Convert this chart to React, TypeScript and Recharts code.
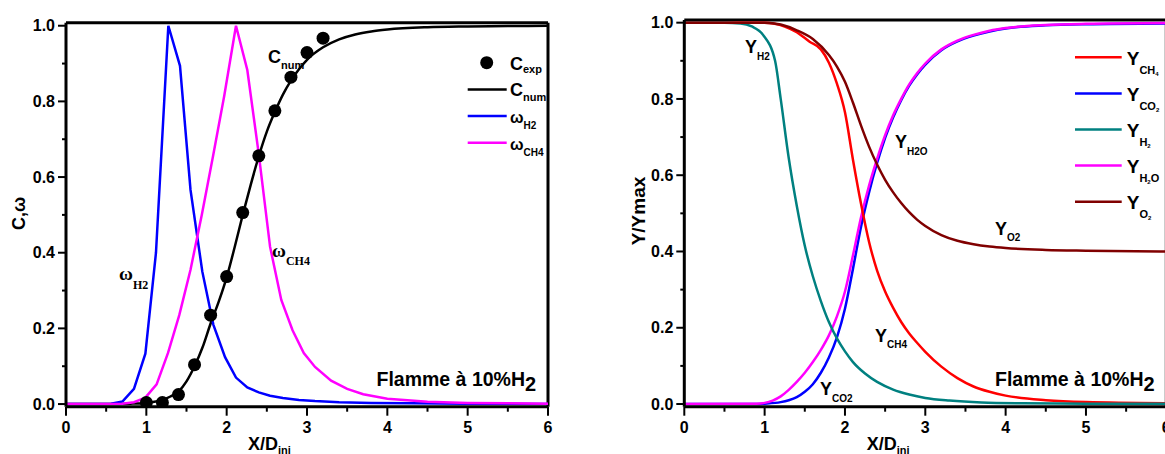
import React from 'react';
import { ComposedChart, Line, Scatter, XAxis, YAxis, ReferenceLine, Legend } from 'recharts';

const SANS = '"Liberation Sans", Arial, Helvetica, sans-serif';
const SERIF = '"Liberation Serif", "Times New Roman", serif';

// ---------- axis ticks ----------
const xTicks = [0, 0.5, 1, 1.5, 2, 2.5, 3, 3.5, 4, 4.5, 5, 5.5, 6];
const yTicks = [0, 0.1, 0.2, 0.3, 0.4, 0.5, 0.6, 0.7, 0.8, 0.9, 1.0];

// ---------- left panel: progress variable and reaction rates ----------
const cExpX = [1.0, 1.2, 1.4, 1.6, 1.8, 2.0, 2.2, 2.4, 2.6, 2.8, 3.0, 3.2];
const cExpY = [0.004, 0.004, 0.025, 0.104, 0.235, 0.337, 0.506, 0.656, 0.775, 0.864, 0.929, 0.967];

const cNumX = [0, 0.5, 0.8, 1.0, 1.1, 1.2, 1.3, 1.4, 1.5, 1.6, 1.7, 1.8, 1.9, 2.0, 2.1, 2.2, 2.3, 2.4, 2.5, 2.6, 2.7, 2.8, 2.9, 3.0, 3.2, 3.4, 3.6, 3.8, 4.0, 4.5, 5.0, 5.5, 6.0];
const cNumY = [0, 0, 0.001, 0.003, 0.006, 0.011, 0.02, 0.033, 0.06, 0.1, 0.15, 0.213, 0.27, 0.335, 0.415, 0.5, 0.58, 0.655, 0.72, 0.772, 0.818, 0.855, 0.885, 0.91, 0.943, 0.964, 0.977, 0.985, 0.99, 0.996, 0.998, 0.999, 1.0];

const wH2X = [0, 0.42, 0.56, 0.705, 0.846, 0.988, 1.12, 1.274, 1.419, 1.55, 1.697, 1.834, 1.98, 2.116, 2.257, 2.4, 2.54, 2.7, 2.9, 3.1, 3.4, 3.8, 4.3, 5, 6];
const wH2Y = [0, 0, 0.001, 0.007, 0.04, 0.133, 0.4, 1.0, 0.894, 0.566, 0.35, 0.21, 0.124, 0.07, 0.044, 0.031, 0.022, 0.016, 0.011, 0.008, 0.005, 0.003, 0.002, 0.001, 0];

const wCH4X = [0, 0.5, 0.7, 0.846, 0.988, 1.128, 1.27, 1.41, 1.55, 1.69, 1.83, 1.97, 2.116, 2.257, 2.4, 2.54, 2.68, 2.82, 2.96, 3.1, 3.3, 3.5, 3.7, 4.0, 4.5, 5, 6];
const wCH4Y = [0, 0, 0.001, 0.005, 0.017, 0.052, 0.135, 0.235, 0.355, 0.5, 0.655, 0.815, 1.0, 0.883, 0.66, 0.416, 0.275, 0.195, 0.135, 0.098, 0.062, 0.04, 0.026, 0.014, 0.006, 0.003, 0.001];

// ---------- right panel: normalised mass fractions ----------
const yCH4X = [0, 1.0, 1.25, 1.4, 1.56, 1.7, 1.8, 1.9, 2.0, 2.1, 2.2, 2.3, 2.4, 2.5, 2.6, 2.7, 2.8, 2.9, 3.0, 3.2, 3.4, 3.6, 3.8, 4.0, 4.5, 5, 6];
const yCH4Y = [1, 1, 0.99, 0.975, 0.95, 0.93, 0.895, 0.84, 0.765, 0.64, 0.525, 0.425, 0.35, 0.295, 0.252, 0.215, 0.185, 0.16, 0.137, 0.098, 0.068, 0.046, 0.032, 0.022, 0.01, 0.005, 0.002];

const yCO2X = [0, 0.9, 1.0, 1.2, 1.3, 1.4, 1.5, 1.6, 1.7, 1.8, 1.9, 2.0, 2.1, 2.2, 2.3, 2.4, 2.5, 2.6, 2.7, 2.8, 2.9, 3.0, 3.2, 3.4, 3.6, 3.8, 4.0, 4.5, 5, 6];
const yCO2Y = [0, 0, 0.001, 0.005, 0.01, 0.018, 0.032, 0.052, 0.082, 0.122, 0.175, 0.25, 0.355, 0.465, 0.555, 0.632, 0.698, 0.752, 0.797, 0.835, 0.865, 0.89, 0.928, 0.951, 0.966, 0.977, 0.985, 0.993, 0.996, 0.998];

const yH2X = [0, 0.5, 0.7, 0.84, 0.98, 1.13, 1.2, 1.3, 1.4, 1.5, 1.6, 1.7, 1.8, 1.9, 2.0, 2.1, 2.25, 2.4, 2.6, 2.8, 3.0, 3.3, 3.7, 4.2, 5, 6];
const yH2Y = [1, 1, 0.998, 0.99, 0.968, 0.9, 0.8, 0.645, 0.52, 0.415, 0.335, 0.27, 0.215, 0.172, 0.138, 0.11, 0.08, 0.058, 0.038, 0.025, 0.016, 0.009, 0.004, 0.002, 0.001, 0.001];

const yH2OX = [0, 0.9, 1.0, 1.1, 1.2, 1.3, 1.4, 1.5, 1.6, 1.7, 1.8, 1.9, 2.0, 2.1, 2.2, 2.3, 2.4, 2.5, 2.6, 2.7, 2.8, 2.9, 3.0, 3.2, 3.4, 3.6, 3.8, 4.0, 4.5, 5, 6];
const yH2OY = [0, 0.001, 0.003, 0.009, 0.02, 0.037, 0.058, 0.082, 0.11, 0.142, 0.18, 0.23, 0.295, 0.39, 0.49, 0.573, 0.643, 0.705, 0.757, 0.8, 0.838, 0.868, 0.893, 0.93, 0.953, 0.968, 0.979, 0.986, 0.994, 0.997, 0.999];

const yO2X = [0, 1.0, 1.2, 1.4, 1.6, 1.8, 1.9, 2.0, 2.1, 2.2, 2.3, 2.4, 2.5, 2.6, 2.7, 2.8, 2.9, 3.0, 3.2, 3.4, 3.6, 3.8, 4.0, 4.5, 5, 6];
const yO2Y = [1, 1, 0.995, 0.98, 0.957, 0.915, 0.885, 0.845, 0.79, 0.73, 0.675, 0.628, 0.588, 0.555, 0.527, 0.503, 0.483, 0.467, 0.443, 0.428, 0.419, 0.413, 0.409, 0.404, 0.402, 0.4];

const pts = (xs: number[], ys: number[]) => xs.map((x, i) => ({ x, y: ys[i] }));

const cExp = pts(cExpX, cExpY);
const cNum = pts(cNumX, cNumY);
const wH2 = pts(wH2X, wH2Y);
const wCH4 = pts(wCH4X, wCH4Y);
const sCH4 = pts(yCH4X, yCH4Y);
const sCO2 = pts(yCO2X, yCO2Y);
const sH2 = pts(yH2X, yH2Y);
const sH2O = pts(yH2OX, yH2OY);
const sO2 = pts(yO2X, yO2Y);

const BLACK = '#000000';
const BLUE = '#0000FF';
const MAGENTA = '#FF00FF';
const RED = '#FF0000';
const TEAL = '#008080';
const DARKRED = '#800000';
const LW = 2.5;

// ---------- ticks ----------
const XTick = (props: any) => {
  const { x, y, payload } = props;
  const v = payload.value as number;
  const major = Math.abs(v - Math.round(v)) < 1e-6;
  return (
    <g>
      <line x1={x} x2={x} y1={y} y2={y + (major ? 9 : 5)} stroke="#000" strokeWidth={2} />
      {major && (
        <text x={x} y={y + 26.6} textAnchor="middle" fontFamily={SANS} fontWeight="bold" fontSize={16} fill="#000">
          {String(Math.round(v))}
        </text>
      )}
    </g>
  );
};

const YTick = (props: any) => {
  const { x, y, payload } = props;
  const v = payload.value as number;
  const major = Math.round(v * 10) % 2 === 0;
  return (
    <g>
      <line x1={x} x2={x - (major ? 8 : 4)} y1={y} y2={y} stroke="#000" strokeWidth={2} />
      {major && (
        <text x={x - 11} y={y + 5.7} textAnchor="end" fontFamily={SANS} fontWeight="bold" fontSize={16} fill="#000">
          {v.toFixed(1)}
        </text>
      )}
    </g>
  );
};

// ---------- text helpers ----------
type Part = [string, number, number];
const Rich = ({ x, y, parts, family }: { x: number; y: number; parts: Part[]; family: string }) => (
  <text x={x} y={y} fontFamily={family} fontWeight="bold" fill="#000">
    {parts.map((p, i) => (
      <tspan key={i} fontSize={p[1]} dy={p[2]}>
        {p[0]}
      </tspan>
    ))}
  </text>
);

// ---------- legends ----------
const leftLegendItems: { parts: Part[]; color: string; kind: 'dot' | 'line' }[] = [
  { parts: [['C', 18, 0], ['exp', 11, 3]], color: BLACK, kind: 'dot' },
  { parts: [['C', 18, 0], ['num', 11, 5]], color: BLACK, kind: 'line' },
  { parts: [['ω', 16, 0], ['H2', 10, 6]], color: BLUE, kind: 'line' },
  { parts: [['ω', 16, 0], ['CH4', 10, 6]], color: MAGENTA, kind: 'line' },
];

const rightLegendItems: { parts: Part[]; color: string }[] = [
  { parts: [['Y', 19, 0], ['CH', 11, 9], ['4', 6, 2]], color: RED },
  { parts: [['Y', 19, 0], ['CO', 11, 9], ['2', 6, 2]], color: BLUE },
  { parts: [['Y', 19, 0], ['H', 11, 9], ['2', 6, 2]], color: TEAL },
  { parts: [['Y', 19, 0], ['H', 11, 9], ['2', 6, 2], ['O', 11, -2]], color: MAGENTA },
  { parts: [['Y', 19, 0], ['O', 11, 9], ['2', 6, 2]], color: DARKRED },
];

const LeftLegend = () => (
  <svg width={110} height={120} style={{ display: 'block', overflow: 'visible' }}>
    {leftLegendItems.map((it, i) => {
      const cy = 17.7 + i * 26.7;
      return (
        <g key={i}>
          {it.kind === 'dot' ? (
            <circle cx={31.7} cy={cy} r={6.5} fill={it.color} />
          ) : (
            <line x1={12.7} x2={51.7} y1={cy} y2={cy} stroke={it.color} strokeWidth={2.5} />
          )}
          <Rich x={55} y={cy + 7} parts={it.parts} family={SANS} />
        </g>
      );
    })}
  </svg>
);

const RightLegend = () => (
  <svg width={100} height={190} style={{ display: 'block', overflow: 'visible' }}>
    {rightLegendItems.map((it, i) => {
      const cy = 17.3 + i * 36.1;
      return (
        <g key={i}>
          <line x1={5} x2={51.7} y1={cy} y2={cy} stroke={it.color} strokeWidth={2.5} />
          <Rich x={56.7} y={cy + 7.7} parts={it.parts} family={SANS} />
        </g>
      );
    })}
  </svg>
);

// ---------- annotations ----------
const leftNotes: { x: number; y: number; parts: Part[]; family: string }[] = [
  { x: 268, y: 63, parts: [['C', 18, 0], ['num', 11, 6]], family: SANS },
  { x: 119, y: 280, parts: [['ω', 19, 0], ['H2', 12, 9]], family: SERIF },
  { x: 272, y: 257, parts: [['ω', 19, 0], ['CH4', 12, 8]], family: SERIF },
  { x: 376.5, y: 385.5, parts: [['Flamme à 10%H', 19.5, 0], ['2', 20, 5]], family: SANS },
  { x: 248, y: 450, parts: [['X/D', 18, 0], ['inj', 11, 4]], family: SANS },
];

const rightNotes: { x: number; y: number; parts: Part[]; family: string }[] = [
  { x: 745, y: 53, parts: [['Y', 18, 0], ['H2', 10, 7]], family: SANS },
  { x: 895, y: 148, parts: [['Y', 18, 0], ['H2O', 10, 7]], family: SANS },
  { x: 995, y: 235, parts: [['Y', 18, 0], ['O2', 10, 6]], family: SANS },
  { x: 875, y: 342, parts: [['Y', 18, 0], ['CH4', 10, 6]], family: SANS },
  { x: 820, y: 395, parts: [['Y', 18, 0], ['CO2', 10, 7]], family: SANS },
  { x: 995, y: 385.5, parts: [['Flamme à 10%H', 19.5, 0], ['2', 20, 5]], family: SANS },
  { x: 866.7, y: 450, parts: [['X/D', 18, 0], ['inj', 11, 4]], family: SANS },
];

const axisLineStyle = { stroke: '#000', strokeWidth: 3 };

export default function App() {
  return (
    <div style={{ position: 'fixed', left: 0, top: 0, width: 1165, height: 454, overflow: 'hidden', background: '#fff' }}>
      <div style={{ position: 'absolute', left: 0, top: 0 }}>
        <ComposedChart width={600} height={454} margin={{ top: 22.7, right: 52, bottom: 17.3, left: 16 }}>
          <XAxis type="number" dataKey="x" domain={[0, 6]} ticks={xTicks} interval={0} tick={XTick} tickLine={false} tickSize={0} tickMargin={0} height={30} axisLine={axisLineStyle} allowDataOverflow />
          <YAxis type="number" domain={[-0.007, 1.008]} ticks={yTicks} interval={0} tick={YTick} tickLine={false} tickSize={0} tickMargin={0} width={50} axisLine={axisLineStyle} allowDataOverflow />
          <ReferenceLine y={1.008} stroke="#000" strokeWidth={3} />
          <ReferenceLine x={6} stroke="#000" strokeWidth={3} />
          <Line data={cNum} dataKey="y" type="monotone" stroke={BLACK} strokeWidth={LW} dot={false} isAnimationActive={false} />
          <Line data={wH2} dataKey="y" type="linear" stroke={BLUE} strokeWidth={LW} dot={false} isAnimationActive={false} />
          <Line data={wCH4} dataKey="y" type="linear" stroke={MAGENTA} strokeWidth={LW} dot={false} isAnimationActive={false} />
          <Scatter data={cExp} dataKey="y" fill={BLACK} isAnimationActive={false}
            shape={(p: any) => <circle cx={p.cx} cy={p.cy} r={6.5} fill={BLACK} />} />
          <Legend content={() => <LeftLegend />} layout="vertical" align="center" verticalAlign="middle"
            wrapperStyle={{ position: 'absolute', left: 455, top: 45, width: 110, height: 120 }} />
        </ComposedChart>
      </div>
      <div style={{ position: 'absolute', left: 600, top: 0 }}>
        <ComposedChart width={600} height={454} margin={{ top: 20, right: 33.7, bottom: 17.3, left: 34.3 }}>
          <XAxis type="number" dataKey="x" domain={[0, 6]} ticks={xTicks} interval={0} tick={XTick} tickLine={false} tickSize={0} tickMargin={0} height={30} axisLine={axisLineStyle} allowDataOverflow />
          <YAxis type="number" domain={[-0.007, 1.007]} ticks={yTicks} interval={0} tick={YTick} tickLine={false} tickSize={0} tickMargin={0} width={50} axisLine={axisLineStyle} allowDataOverflow />
          <ReferenceLine y={1.007} stroke="#000" strokeWidth={3} />
          <ReferenceLine x={6} stroke="#000" strokeWidth={3} />
          <Line data={sCO2} dataKey="y" type="monotone" stroke={BLUE} strokeWidth={LW} dot={false} isAnimationActive={false} />
          <Line data={sH2O} dataKey="y" type="monotone" stroke={MAGENTA} strokeWidth={LW} dot={false} isAnimationActive={false} />
          <Line data={sCH4} dataKey="y" type="monotone" stroke={RED} strokeWidth={LW} dot={false} isAnimationActive={false} />
          <Line data={sH2} dataKey="y" type="monotone" stroke={TEAL} strokeWidth={LW} dot={false} isAnimationActive={false} />
          <Line data={sO2} dataKey="y" type="monotone" stroke={DARKRED} strokeWidth={LW} dot={false} isAnimationActive={false} />
          <Legend content={() => <RightLegend />} layout="vertical" align="center" verticalAlign="middle"
            wrapperStyle={{ position: 'absolute', left: 470, top: 40, width: 100, height: 190 }} />
        </ComposedChart>
      </div>
      <svg width={1165} height={454} style={{ position: 'absolute', left: 0, top: 0, pointerEvents: 'none' }}>
        {leftNotes.concat(rightNotes).map((n, i) => (
          <Rich key={i} x={n.x} y={n.y} parts={n.parts} family={n.family} />
        ))}
        <text x={25} y={213.5} transform="rotate(-90 25 213.5)" textAnchor="middle" fontFamily={SANS} fontWeight="bold" fontSize={18} fill="#000">C,ω</text>
        <text x={645} y={211} transform="rotate(-90 645 211)" textAnchor="middle" fontFamily={SANS} fontWeight="bold" fontSize={19} fill="#000">Y/Ymax</text>
      </svg>
    </div>
  );
}
